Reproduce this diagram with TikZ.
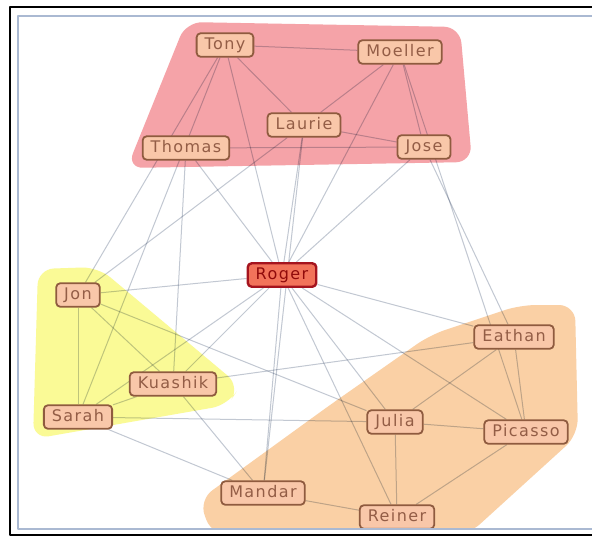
\documentclass[tikz,border=0pt]{standalone}
\usepackage{fontspec}
\newfontfamily\namefont{DejaVu Sans}[LetterSpace=9]
\usetikzlibrary{backgrounds}
\definecolor{nodefill}{HTML}{F9C7A9}
\definecolor{nodeborder}{HTML}{8F5B3F}
\definecolor{nodetext}{HTML}{935D46}
\definecolor{rogerfill}{HTML}{F2735A}
\definecolor{rogerborder}{HTML}{A5141E}
\definecolor{rogertext}{HTML}{900A0A}
\definecolor{linkgray}{HTML}{C2C8D2}
\definecolor{redblob}{HTML}{F5A3A8}
\definecolor{yellowblob}{HTML}{FAFA96}
\definecolor{orangeblob}{HTML}{FAD0A5}
\definecolor{framegray}{HTML}{AAB9D2}
\begin{document}
\begin{tikzpicture}[x=1pt, y=-1pt, line cap=round, line join=round,
    person/.style={draw=nodeborder, fill=nodefill, text=nodetext, line width=1.8pt,
      rounded corners=4pt, inner xsep=8pt, inner ysep=4.5pt, text height=11.5pt,
      text depth=3pt, font=\namefont\fontsize{16}{19}\selectfont},
    leader/.style={person, draw=rogerborder, fill=rogerfill, text=rogertext, line width=2.4pt},
    link/.style={draw=linkgray, line width=1pt},
    blob/.style={rounded corners=16pt}]
  \useasboundingbox (0,0) rectangle (592,539);
  % people
  \node[person] (tony) at (225,45) {Tony};
  \node[person] (moeller) at (400,52) {Moeller};
  \node[person] (laurie) at (304,125) {Laurie};
  \node[person] (thomas) at (186,148) {Thomas};
  \node[person] (jose) at (424,147) {Jose};
  \node[leader] (roger) at (282,275) {Roger};
  \node[person] (jon) at (78,295) {Jon};
  \node[person] (kuashik) at (173,384) {Kuashik};
  \node[person] (sarah) at (78,417) {Sarah};
  \node[person] (eathan) at (514,337) {Eathan};
  \node[person] (julia) at (395,422) {Julia};
  \node[person] (picasso) at (526,432) {Picasso};
  \node[person] (mandar) at (263,493) {Mandar};
  \node[person] (reiner) at (397,517) {Reiner};
  \begin{pgfonlayer}{background}
    \fill[white] (0,0) rectangle (592,539);
    % groups
    \fill[redblob, blob] (186,22) -- (460,27) -- (472,162) -- (127,168) -- cycle;
    \fill[yellowblob, blob] (38,269) -- (98,267) -- (240,386) -- (228,405) -- (33,439) -- cycle;
    \fill[orangeblob, blob] (199,500) -- (330,405) -- (430,335) -- (520,305) -- (575,305)
      -- (578,435) -- (468,535) -- (212,535) -- cycle;
    % ties
    \begin{scope}[blend mode=multiply]
      \draw[link] (tony) -- (moeller);
      \draw[link] (tony) -- (laurie);
      \draw[link] (tony) -- (roger);
      \draw[link] (tony) -- (jon);
      \draw[link] (tony) -- (sarah);
      \draw[link] (moeller) -- (laurie);
      \draw[link] (moeller) -- (jose);
      \draw[link] (moeller) -- (roger);
      \draw[link] (moeller) -- (picasso);
      \draw[link] (laurie) -- (jose);
      \draw[link] (laurie) -- (roger);
      \draw[link] (laurie) -- (jon);
      \draw[link] (laurie) -- (mandar);
      \draw[link] (thomas) -- (jose);
      \draw[link] (thomas) -- (roger);
      \draw[link] (thomas) -- (kuashik);
      \draw[link] (jose) -- (roger);
      \draw[link] (jose) -- (eathan);
      \draw[link] (roger) -- (jon);
      \draw[link] (roger) -- (kuashik);
      \draw[link] (roger) -- (sarah);
      \draw[link] (roger) -- (eathan);
      \draw[link] (roger) -- (julia);
      \draw[link] (roger) -- (picasso);
      \draw[link] (roger) -- (reiner);
      \draw[link] (roger) -- (mandar);
      \draw[link] (jon) -- (sarah);
      \draw[link] (jon) -- (kuashik);
      \draw[link] (jon) -- (julia);
      \draw[link] (kuashik) -- (sarah);
      \draw[link] (kuashik) -- (eathan);
      \draw[link] (kuashik) -- (mandar);
      \draw[link] (sarah) -- (julia);
      \draw[link] (sarah) -- (mandar);
      \draw[link] (eathan) -- (julia);
      \draw[link] (eathan) -- (picasso);
      \draw[link] (julia) -- (picasso);
      \draw[link] (julia) -- (reiner);
      \draw[link] (picasso) -- (reiner);
      \draw[link] (mandar) -- (reiner);
    \end{scope}
  \end{pgfonlayer}
  % frame
  \fill[white] (17,528.5) rectangle (600,539);
  \draw[framegray, line width=2pt] (18,15.5) rectangle (600,528.5);
  \draw[black, line width=2pt] (10,6.5) rectangle (600,534.5);
\end{tikzpicture}
\end{document}
